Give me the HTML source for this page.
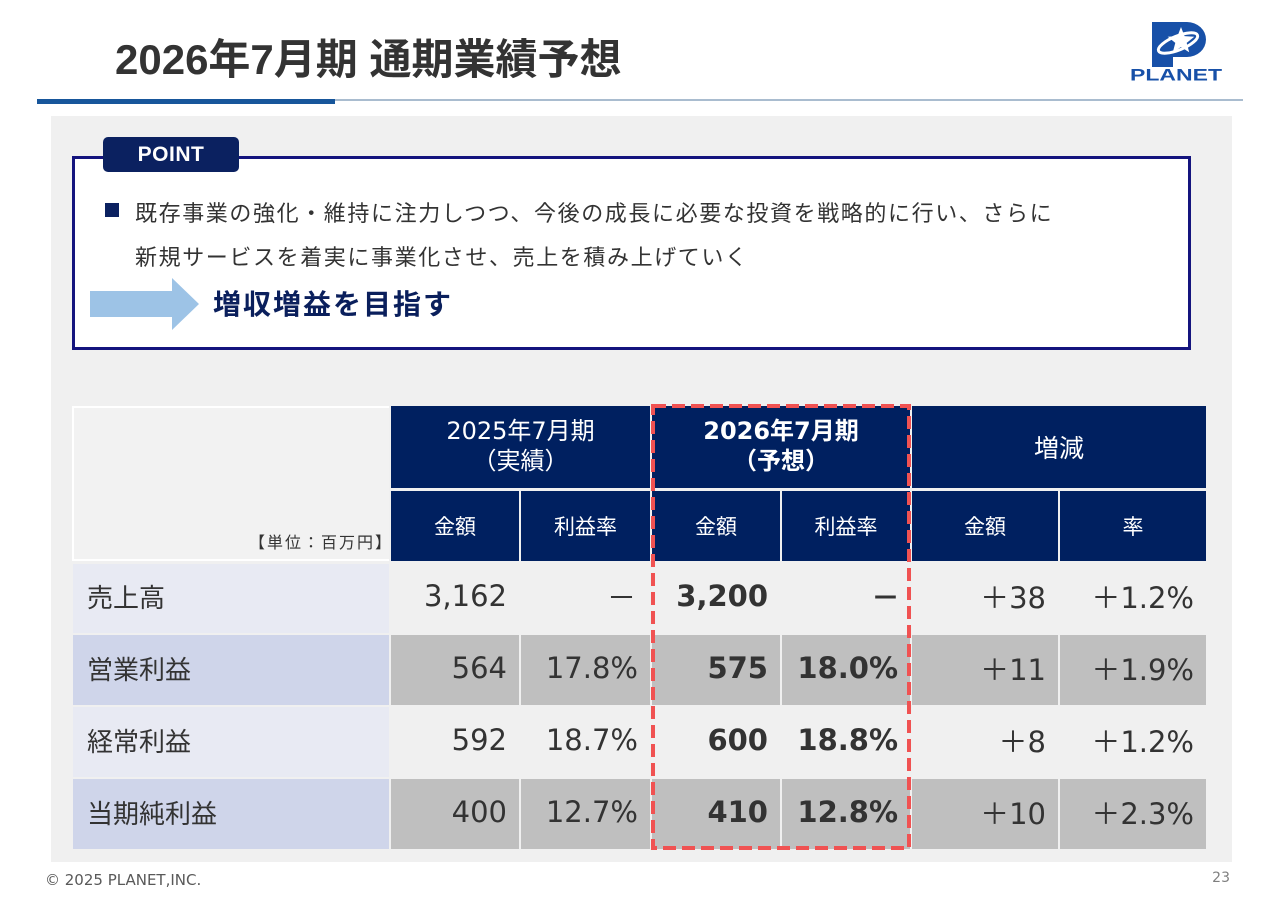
<!DOCTYPE html>
<html><head><meta charset="utf-8">
<style>
*{margin:0;padding:0;box-sizing:border-box}
body{width:1280px;height:905px;background:#fff;position:relative;overflow:hidden;font-family:"Liberation Sans","Noto Sans CJK JP",sans-serif;color:#333}
.a{position:absolute}
.title{left:115px;top:39px;font-size:42px;line-height:42px;font-weight:bold;color:#333;white-space:nowrap}
.panel{left:51px;top:116px;width:1181px;height:746px;background:#f0f0f0}
.box{left:72px;top:156px;width:1119px;height:194px;border:3px solid #14147e;background:#fff}
.tab{left:103px;top:137px;width:136px;height:35px;background:#0b2160;border-radius:5px;color:#fff;font-weight:bold;font-size:21px;line-height:35px;text-align:center;letter-spacing:0.5px}
.pt{font-family:"Noto Sans CJK JP",sans-serif;font-size:22px;line-height:24px;letter-spacing:1.6px;color:#333;white-space:nowrap}
.c{position:absolute;display:flex;align-items:center;font-family:"DejaVu Sans","Noto Sans CJK JP",sans-serif;white-space:nowrap}
.h{background:#002060;color:#fff;justify-content:center;text-align:center}
.v{justify-content:flex-end;padding-right:12px;padding-bottom:4px;font-size:29px;color:#333}
.l{padding-left:14px;padding-bottom:4px;font-family:"Noto Sans CJK JP",sans-serif;font-size:26px;color:#333}
.b{font-weight:bold}
.o1{background:#f0f0f0}.o2{background:#bfbfbf}
.l1{background:#e8eaf3}.l2{background:#cfd5ea}
</style></head><body>
<div class="a title">2026年7月期 通期業績予想</div>
<div class="a" style="left:335px;top:99px;width:908px;height:2px;background:#a9bccf"></div>
<div class="a" style="left:37px;top:99px;width:298px;height:5px;background:#17569b"></div>

<div class="a panel"></div>
<div class="a box"></div>
<div class="a tab">POINT</div>
<div class="a" style="left:105px;top:203px;width:14px;height:14px;background:#0b2160"></div>
<div class="a pt" style="left:135px;top:200px">既存事業の強化・維持に注力しつつ、今後の成長に必要な投資を戦略的に行い、さらに</div>
<div class="a pt" style="left:135px;top:244px">新規サービスを着実に事業化させ、売上を積み上げていく</div>
<div class="a" style="left:213px;top:287px;font-family:'Noto Sans CJK JP',sans-serif;font-size:28px;line-height:32px;font-weight:bold;letter-spacing:2px;color:#0a1f5c;white-space:nowrap">増収増益を目指す</div>

<!-- table -->
<div class="a" style="left:72px;top:406px;width:317px;height:155px;background:#f2f2f2;border:2px solid #fff;border-right:none"></div>
<div class="a" style="left:200px;top:530px;width:189px;text-align:right;font-family:'Noto Sans CJK JP',sans-serif;font-size:16px;line-height:22px;letter-spacing:2px;color:#333;white-space:nowrap;margin-right:-6px"><span style="margin-right:-4px">【単位：百万円】</span></div>

<div class="c h" style="left:391px;top:406px;width:259px;height:82px;font-size:24px;line-height:30px;padding-bottom:3px">2025年7月期<br>（実績）</div>
<div class="c h b" style="left:652px;top:406px;width:258px;height:82px;font-size:24px;line-height:30px;padding-bottom:3px">2026年7月期<br>（予想）</div>
<div class="c h" style="left:912px;top:406px;width:294px;height:82px;font-size:25px">増減</div>

<div class="c h" style="left:391px;top:491px;width:128px;height:70px;font-size:21px;font-family:'Noto Sans CJK JP',sans-serif">金額</div>
<div class="c h" style="left:521px;top:491px;width:129px;height:70px;font-size:21px;font-family:'Noto Sans CJK JP',sans-serif">利益率</div>
<div class="c h" style="left:652px;top:491px;width:128px;height:70px;font-size:21px;font-family:'Noto Sans CJK JP',sans-serif">金額</div>
<div class="c h" style="left:782px;top:491px;width:128px;height:70px;font-size:21px;font-family:'Noto Sans CJK JP',sans-serif">利益率</div>
<div class="c h" style="left:912px;top:491px;width:146px;height:70px;font-size:21px;font-family:'Noto Sans CJK JP',sans-serif">金額</div>
<div class="c h" style="left:1060px;top:491px;width:146px;height:70px;font-size:21px;font-family:'Noto Sans CJK JP',sans-serif">率</div>

<!-- row 1 -->
<div class="c l l1" style="left:73px;top:564px;width:316px;height:69px">売上高</div>
<div class="c v o1" style="left:391px;top:563px;width:128px;height:70px">3,162</div>
<div class="c v o1" style="left:521px;top:563px;width:129px;height:70px;padding-right:14px">－</div>
<div class="c v o1 b" style="left:652px;top:563px;width:128px;height:70px">3,200</div>
<div class="c v o1 b" style="left:782px;top:563px;width:128px;height:70px;padding-right:10px">－</div>
<div class="c v o1" style="left:912px;top:563px;width:146px;height:70px">＋38</div>
<div class="c v o1" style="left:1060px;top:563px;width:146px;height:70px">＋1.2%</div>
<!-- row 2 -->
<div class="c l l2" style="left:73px;top:635px;width:316px;height:70px">営業利益</div>
<div class="c v o2" style="left:391px;top:635px;width:128px;height:70px">564</div>
<div class="c v o2" style="left:521px;top:635px;width:129px;height:70px">17.8%</div>
<div class="c v o2 b" style="left:652px;top:635px;width:128px;height:70px">575</div>
<div class="c v o2 b" style="left:782px;top:635px;width:128px;height:70px">18.0%</div>
<div class="c v o2" style="left:912px;top:635px;width:146px;height:70px">＋11</div>
<div class="c v o2" style="left:1060px;top:635px;width:146px;height:70px">＋1.9%</div>
<!-- row 3 -->
<div class="c l l1" style="left:73px;top:707px;width:316px;height:70px">経常利益</div>
<div class="c v o1" style="left:391px;top:707px;width:128px;height:70px">592</div>
<div class="c v o1" style="left:521px;top:707px;width:129px;height:70px">18.7%</div>
<div class="c v o1 b" style="left:652px;top:707px;width:128px;height:70px">600</div>
<div class="c v o1 b" style="left:782px;top:707px;width:128px;height:70px">18.8%</div>
<div class="c v o1" style="left:912px;top:707px;width:146px;height:70px">＋8</div>
<div class="c v o1" style="left:1060px;top:707px;width:146px;height:70px">＋1.2%</div>
<!-- row 4 -->
<div class="c l l2" style="left:73px;top:779px;width:316px;height:70px">当期純利益</div>
<div class="c v o2" style="left:391px;top:779px;width:128px;height:70px">400</div>
<div class="c v o2" style="left:521px;top:779px;width:129px;height:70px">12.7%</div>
<div class="c v o2 b" style="left:652px;top:779px;width:128px;height:70px">410</div>
<div class="c v o2 b" style="left:782px;top:779px;width:128px;height:70px">12.8%</div>
<div class="c v o2" style="left:912px;top:779px;width:146px;height:70px">＋10</div>
<div class="c v o2" style="left:1060px;top:779px;width:146px;height:70px">＋2.3%</div>

<svg class="a" style="left:0;top:0" width="1280" height="905" viewBox="0 0 1280 905">
  <polygon points="90,291 172,291 172,278 199,304 172,330 172,317 90,317" fill="#9dc3e6"/>
  <rect x="653" y="406" width="256" height="442" fill="none" stroke="#f05252" stroke-width="4" stroke-dasharray="13 6"/>
  <!-- logo -->
  <rect x="1152" y="22" width="21" height="45" fill="#1750a8"/>
  <path d="M1172,22 H1187 A19,17.5 0 0 1 1187,57 H1172 Z" fill="#1750a8"/>
  <ellipse cx="1178" cy="43" rx="21" ry="7" fill="none" stroke="#fff" stroke-width="3" transform="rotate(-22 1178 43)"/>
  <polygon points="1181,27 1184.5,36.1 1194.3,36.7 1186.7,42.9 1189.2,52.3 1181,47 1172.8,52.3 1175.3,42.9 1167.7,36.7 1177.5,36.1" fill="#fff"/>
  <text x="1130" y="80.5" font-family="Liberation Sans, sans-serif" font-weight="bold" font-size="17" fill="#1750a8" textLength="92" lengthAdjust="spacingAndGlyphs">PLANET</text>
</svg>

<div class="a" style="left:45px;top:871px;font-family:'DejaVu Sans',sans-serif;font-size:15px;line-height:18px;color:#595959;white-space:nowrap">© 2025 PLANET,INC.</div>
<div class="a" style="left:1190px;top:869px;width:40px;text-align:right;font-family:'DejaVu Sans',sans-serif;font-size:14px;line-height:18px;color:#7f7f7f">23</div>
</body></html>
